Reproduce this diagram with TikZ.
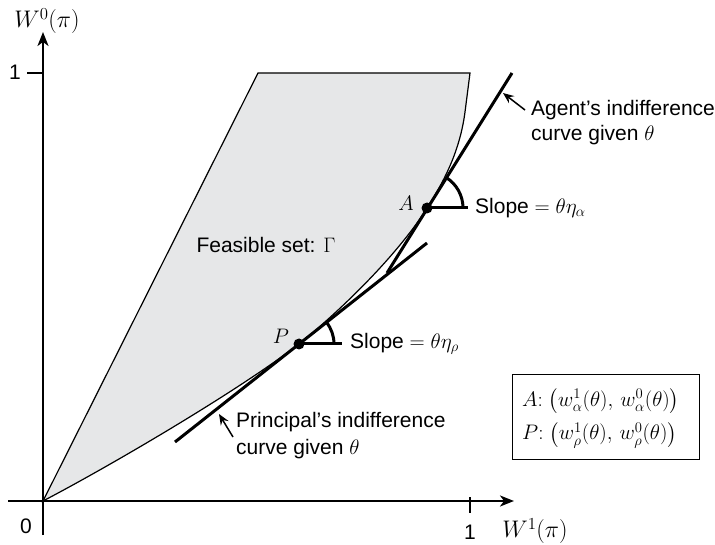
\RequirePackage{fix-cm}
\documentclass[tikz,border=0pt]{standalone}
\usepackage{exscale}
\usepackage{fontspec}
\setmainfont{Liberation Sans}
\usetikzlibrary{arrows.meta}
\definecolor{regionfill}{RGB}{230,231,232}
\begin{document}
\begin{tikzpicture}[x=1pt,y=-1pt,
  font=\fontsize{21}{25}\selectfont,
  axis/.style={line width=2.2pt,-{Stealth[length=14pt,width=11pt,inset=4pt]}},
  tickline/.style={line width=2.2pt},
  tang/.style={line width=3pt},
  bound/.style={line width=1.2pt},
  lbl/.style={inner sep=0pt},
  axlbl/.style={inner sep=0pt,font=\fontsize{24}{28}\selectfont},
  callout/.style={line width=1.5pt,-{Stealth[length=11pt,width=9pt,inset=4pt]}}]
\useasboundingbox (0,0) rectangle (715,545);

% key points
\coordinate (O) at (43,501);
\coordinate (TL) at (258,73);
\coordinate (TR) at (470,73);
\coordinate (R1) at (465,112);
\coordinate (A) at (427,208);
\coordinate (P) at (299,344);

% feasible set
\filldraw[fill=regionfill, draw=black, bound]
  (O) -- (TL) -- (TR) -- (R1)
  .. controls (460,150) and (445,180) .. (A)
  .. controls (403,247) and (352,301) .. (P)
  .. controls (238,391) and (110,466) .. (O) -- cycle;

% axes
\coordinate (Ybot) at (43,535);
\coordinate (Ytop) at (43,32);
\coordinate (Xleft) at (8,501);
\coordinate (Xright) at (514,501);
\draw[axis] (Ybot) -- (Ytop);
\draw[axis] (Xleft) -- (Xright);
\coordinate (YtA) at (27,73); \coordinate (YtB) at (43,73);
\draw[tickline] (YtA) -- (YtB);
\coordinate (XtA) at (470,497); \coordinate (XtB) at (470,513);
\draw[tickline] (XtA) -- (XtB);
\node[lbl] (y1) at (15,72) {1};
\node[lbl] (x0) at (26,526) {0};
\node[lbl] (x1) at (470,532) {1};
\node[axlbl] (Xlab) at (535,531) {$W^1(\pi)$};
\node[axlbl] (Ylab) at (47,21) {$W^0(\pi)$};

% tangent lines
\coordinate (At1) at (512,73);
\coordinate (At2) at (387,273);
\draw[tang] (At2) -- (At1);
\coordinate (Pt1) at (175,442);
\coordinate (Pt2) at (427,243);
\draw[tang] (Pt1) -- (Pt2);

% slope marks
\coordinate (Ah) at (468,208);
\draw[tang] (A) -- (Ah);
\draw[tang] (A) ++(36,0) arc[start angle=0,end angle=-58,radius=36];
\coordinate (Ph) at (342,344);
\draw[tang] (P) -- (Ph);
\draw[tang] (P) ++(35,0) arc[start angle=0,end angle=-38.3,radius=35];

\fill (A) circle[radius=5.5];
\fill (P) circle[radius=5.5];

% labels
\node[lbl] (Alab) at (406,203) {$A$};
\node[lbl] (Plab) at (281,336) {$P$};
\node[lbl,anchor=west] (As) at (475,208) {Slope $=\theta\eta_\alpha$};
\node[lbl,anchor=west] (Ps) at (350,344) {Slope $=\theta\eta_\rho$};
\node[lbl] (F) at (266,245) {Feasible set: $\Gamma$};

\node[lbl,anchor=west] (Ag1) at (531,110) {Agent's indifference};
\node[lbl,anchor=west] (Ag2) at (531,135) {curve given $\theta$};
\coordinate (AgTail) at (525,110);
\coordinate (AgTip) at (503,93);
\draw[callout] (AgTail) -- (AgTip);

\node[lbl,anchor=west] (Pr1) at (236,422) {Principal's indifference};
\node[lbl,anchor=west] (Pr2) at (236,449) {curve given $\theta$};
\coordinate (PrTail) at (233,437);
\coordinate (PrTip) at (219,414);
\draw[callout] (PrTail) -- (PrTip);

% legend
\node[draw, line width=1.3pt, inner sep=0pt, minimum width=187pt,
      minimum height=85pt, anchor=north west] (box) at (512,374) {};
\node[lbl,anchor=west] (legA) at (522,401)
  {$A{:}\;\bigl(w^1_\alpha(\theta),\, w^0_\alpha(\theta)\bigr)$};
\node[lbl,anchor=west] (legP) at (522,435)
  {$P{:}\;\bigl(w^1_\rho(\theta),\, w^0_\rho(\theta)\bigr)$};
\end{tikzpicture}
\end{document}
